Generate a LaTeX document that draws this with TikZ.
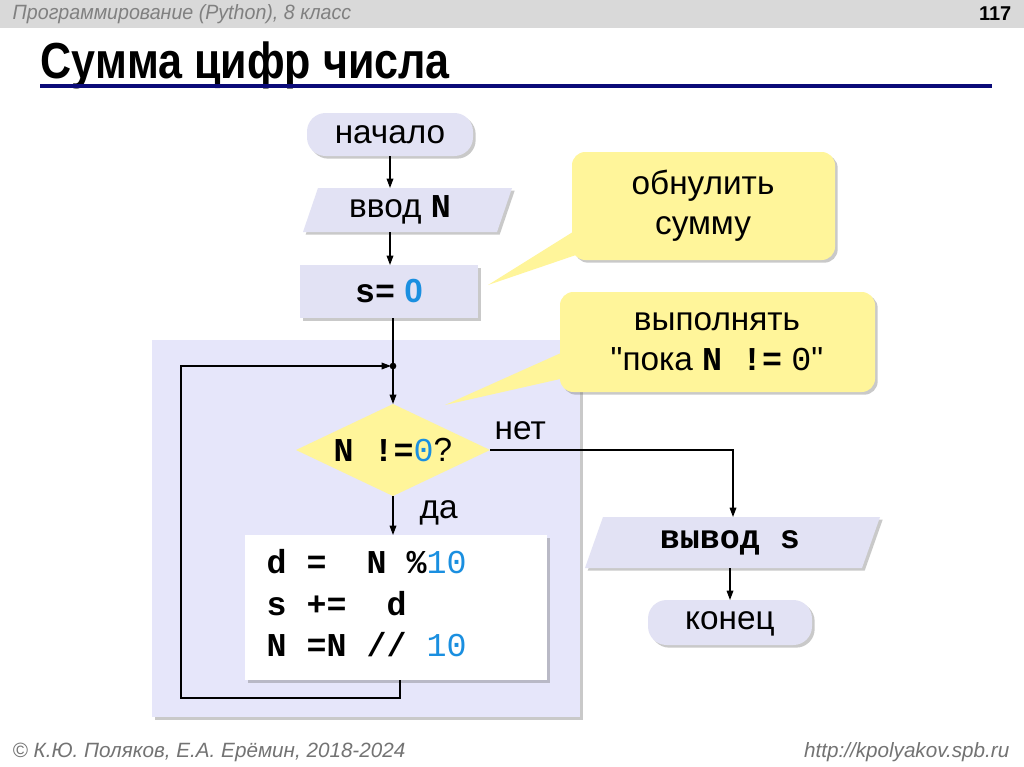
\documentclass[tikz,border=0pt]{standalone}
\usepackage{fontspec}
\setmainfont{Liberation Sans}
\setmonofont{Liberation Mono}
\newfontfamily\plainq{Liberation Sans}[Ligatures=ResetAll]
\usetikzlibrary{shapes.geometric,shadows,arrows.meta}
\definecolor{lav}{HTML}{E2E2F4}
\definecolor{bgl}{HTML}{E6E6FA}
\definecolor{yel}{HTML}{FFF59A}
\definecolor{blu}{HTML}{1A8FE0}
\definecolor{navy}{HTML}{0A0A78}
\begin{document}
\begin{tikzpicture}[x=0.75pt,y=-0.75pt,
  sh/.style={drop shadow={shadow xshift=2pt,shadow yshift=-2pt,opacity=0.35,fill=black!60}},
  term/.style={rounded corners=14pt,fill=lav,sh},
  ar/.style={-{Triangle[length=7pt,width=5pt]},line width=0.9pt},
  ln/.style={line width=0.9pt},
  call/.style={fill=yel,rounded corners=10pt,sh},
  lab/.style={font=\fontsize{25}{30}\selectfont}]
\useasboundingbox (0,0) rectangle (1024,767);
\fill[white] (0,0) rectangle (1024,767);
\fill[black!15] (0,0) rectangle (1024,28);
\node[anchor=west,text=black!50,font=\itshape\fontsize{15.5}{18}\selectfont] (hdr) at (8,14) {\addfontfeatures{FakeStretch=0.95}Программирование (Python), 8 класс};
\node[anchor=east,font=\bfseries\fontsize{15}{18}\selectfont] (pg) at (1016,14) {117};
\node[anchor=west,font=\bfseries\fontsize{38}{44}\selectfont] (title) at (36,65) {\addfontfeatures{FakeStretch=0.85}Сумма цифр числа};
\fill[navy] (40,84.5) rectangle (992,88.5);
% loop background
\fill[bgl,sh] (152,340) rectangle (580,717);
% nodes
\path[term] (307,113) rectangle (473,156);
\node[lab] (start) at (390,134.5) {начало};
\path[fill=lav,sh] (318,188) -- (512,188) -- (497,232) -- (303,232) -- cycle;
\node[lab] (inp) at (400,210) {ввод \texttt{\bfseries N}};
\path[fill=lav,sh] (300,265) rectangle (478,318);
\node[lab] (s0) at (389,291.5) {\texttt{\bfseries s=} \textcolor{blu}{\bfseries 0}};
\path[fill=yel] (296,450) -- (393,404) -- (490,450) -- (393,496) -- cycle;
\node[lab] (dec) at (393,450) {\texttt{\bfseries N !=}\textcolor{blu}{\texttt{0}}?};
\coordinate (dtop) at (393,404);
\coordinate (dbot) at (393,496);
\coordinate (dright) at (490,450);
\path[fill=white,sh] (245,535) rectangle (547,680);
\node[anchor=north west,align=left,font=\ttfamily\bfseries\fontsize{25}{31}\selectfont] (body) at (262,545) {d = \ N \%\textcolor{blu}{\mdseries 10}\\ s += \ d\\ N =N // \textcolor{blu}{\mdseries 10}};
\coordinate (btop) at (393,535);
\coordinate (bbot) at (400,680);
\path[fill=lav,sh] (603,517) -- (880,517) -- (862,568) -- (585,568) -- cycle;
\node[lab] (out) at (730,543) {\texttt{\bfseries вывод s}};
\path[term] (648,600) rectangle (812,645);
\node[lab] (end) at (730,624) {конец};
% connectors
\draw[ar] (390,156) -- (390,188);
\draw[ar] (390,232) -- (390,265);
\coordinate (jn) at (393,366);
\draw[ln] (393,318) -- (jn);
\draw[ar] (jn) -- (dtop);
\fill (jn) circle (2.5pt);
\draw[ar] (bbot) -- (400,698) -- (181,698) -- (181,366) -- (391,366);
\draw[ar] (dbot) -- (btop);
\draw[ar] (dright) -- (733,450) -- (733,517);
\draw[ar] (730,568) -- (730,600);
\node[lab,anchor=west] (no) at (490,431) {нет};
\node[lab,anchor=west] (yes) at (415,513) {да};
% callouts
\path[call] (572,152) rectangle (835,260);
\fill[yel] (600,215) -- (488,285) -- (620,240) -- cycle;
\node[lab,align=center] (c1) at (703,206) {обнулить\\сумму};
\path[call] (560,292) rectangle (875,392);
\fill[yel] (590,340) -- (445,405) -- (600,370) -- cycle;
\node[lab,align=center] (c2) at (717,342) {выполнять\\{\plainq"}пока \texttt{\bfseries N !=} \texttt{0}{\plainq"}};
% footer
\node[anchor=west,text=black!55,font=\itshape\fontsize{15.5}{18}\selectfont] (f1) at (8,752) {© К.Ю. Поляков, Е.А. Ерёмин, 2018-2024};
\node[anchor=east,text=black!55,font=\itshape\fontsize{15.5}{18}\selectfont] (f2) at (1014,752) {http://kpolyakov.spb.ru};
\end{tikzpicture}
\end{document}
